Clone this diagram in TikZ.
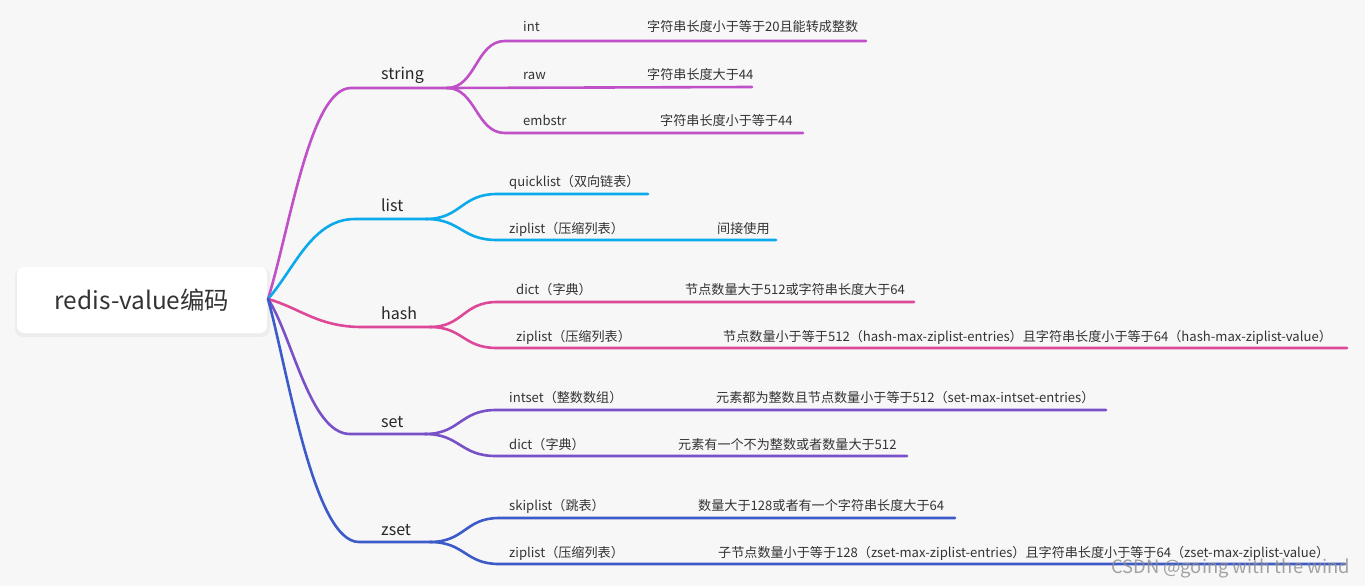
\documentclass[tikz,border=0pt]{standalone}
\usepackage{fontspec}
\setmainfont{Noto Sans CJK SC}
\definecolor{bg}{HTML}{F7F7F7}
\definecolor{txt}{HTML}{333333}
\definecolor{cS}{HTML}{C050C8}
\definecolor{cL}{HTML}{0AAAEB}
\definecolor{cH}{HTML}{DE4898}
\definecolor{cT}{HTML}{7850C8}
\definecolor{cZ}{HTML}{3C5AC8}
\begin{document}
\begin{tikzpicture}[x=1pt,y=-1pt,line cap=round,
  br/.style={line width=2.6pt},
  lone/.style={anchor=base west,inner sep=0pt,text=black!85,font=\fontsize{16}{18}\selectfont},
  ltwo/.style={anchor=base west,inner sep=0pt,text=txt,font=\fontsize{13.1}{15}\selectfont},
  rootbox/.style={fill=white,rounded corners=7pt,minimum width=250pt,minimum height=66pt,inner sep=0pt,text=txt,font=\fontsize{24.4}{27}\selectfont}]
\fill[bg] (0,0) rectangle (1365,586);
\useasboundingbox (0,0) rectangle (1365,586);
% root
\fill[black,opacity=0.04,rounded corners=8pt] (15,268) rectangle (270,337);
\node[rootbox] (root) at (142,300) {redis-value编码};
\coordinate (r) at (268,299);
% string
\coordinate (s0) at (351,88); \coordinate (s1) at (447,88);
\draw[br,cS] (r) .. controls (290,228) and (310,88) .. (s0) -- (s1);
\draw[br,cS] (s1) .. controls (476,88) and (476,41) .. (505,41) -- (866,41);
\draw[br,cS] (s1) -- (752,87);
\draw[br,cS] (s1) .. controls (476,88) and (476,133) .. (505,133) -- (803,133);
\node[lone] (string) at (381,80) {string};
\node[ltwo] (int) at (523,32) {int};
\node[ltwo] (intd) at (647,32) {字符串长度小于等于20且能转成整数};
\node[ltwo] (raw) at (523,79) {raw};
\node[ltwo] (rawd) at (647,79) {字符串长度大于44};
\node[ltwo] (emb) at (523,125) {embstr};
\node[ltwo] (embd) at (660,125) {字符串长度小于等于44};
% list
\coordinate (l0) at (355,219); \coordinate (l1) at (426,219);
\draw[br,cL] (r) .. controls (295,268) and (312,219) .. (l0) -- (l1);
\draw[br,cL] (l1) .. controls (461,219) and (461,194) .. (497,194) -- (648,194);
\draw[br,cL] (l1) .. controls (461,219) and (461,240) .. (497,240) -- (776,240);
\node[lone] (list) at (381,211) {list};
\node[ltwo] (ql) at (509,186) {quicklist（双向链表）};
\node[ltwo] (zl1) at (509,233) {ziplist（压缩列表）};
\node[ltwo] (zl1d) at (717,233) {间接使用};
% hash
\coordinate (h0) at (362,327); \coordinate (h1) at (430,327);
\draw[br,cH] (r) .. controls (300,308) and (318,327) .. (h0) -- (h1);
\draw[br,cH] (h1) .. controls (463,327) and (463,302) .. (497,302) -- (914,302);
\draw[br,cH] (h1) .. controls (463,327) and (463,348) .. (497,348) -- (1347,348);
\node[lone] (hash) at (381,319) {hash};
\node[ltwo] (hd) at (516,294) {dict（字典）};
\node[ltwo] (hdd) at (685,294) {节点数量大于512或字符串长度大于64};
\node[ltwo] (hz) at (516,341) {ziplist（压缩列表）};
\node[ltwo] (hzd) at (723,341) {节点数量小于等于512（hash-max-ziplist-entries）且字符串长度小于等于64（hash-max-ziplist-value）};
% set
\coordinate (t0) at (350,434); \coordinate (t1) at (425,434);
\draw[br,cT] (r) .. controls (292,335) and (310,434) .. (t0) -- (t1);
\draw[br,cT] (t1) .. controls (460,434) and (460,410) .. (496,410) -- (1106,410);
\draw[br,cT] (t1) .. controls (460,434) and (460,456) .. (496,456) -- (907,456);
\node[lone] (set) at (381,427) {set};
\node[ltwo] (ti) at (509,402) {intset（整数数组）};
\node[ltwo] (tid) at (716,402) {元素都为整数且节点数量小于等于512（set-max-intset-entries）};
\node[ltwo] (td) at (509,449) {dict（字典）};
\node[ltwo] (tdd) at (678,449) {元素有一个不为整数或者数量大于512};
% zset
\coordinate (z0) at (359,542); \coordinate (z1) at (430,542);
\draw[br,cZ] (r) .. controls (288,372) and (314,542) .. (z0) -- (z1);
\draw[br,cZ] (z1) .. controls (465,542) and (465,518) .. (499,518) -- (955,518);
\draw[br,cZ] (z1) .. controls (465,542) and (465,564) .. (499,564) -- (1345,564);
\node[lone] (zset) at (381,535) {zset};
\node[ltwo] (zs) at (509,510) {skiplist（跳表）};
\node[ltwo] (zsd) at (698,510) {数量大于128或者有一个字符串长度大于64};
\node[ltwo] (zz) at (509,557) {ziplist（压缩列表）};
\node[ltwo] (zzd) at (718,557) {子节点数量小于等于128（zset-max-ziplist-entries）且字符串长度小于等于64（zset-max-ziplist-value）};
% watermark
\node[anchor=base east,inner sep=0pt,text=black!45,opacity=0.8,font=\fontsize{18.4}{20}\selectfont] (wm) at (1350,573) {CSDN @going with the wind};
\end{tikzpicture}
\end{document}
